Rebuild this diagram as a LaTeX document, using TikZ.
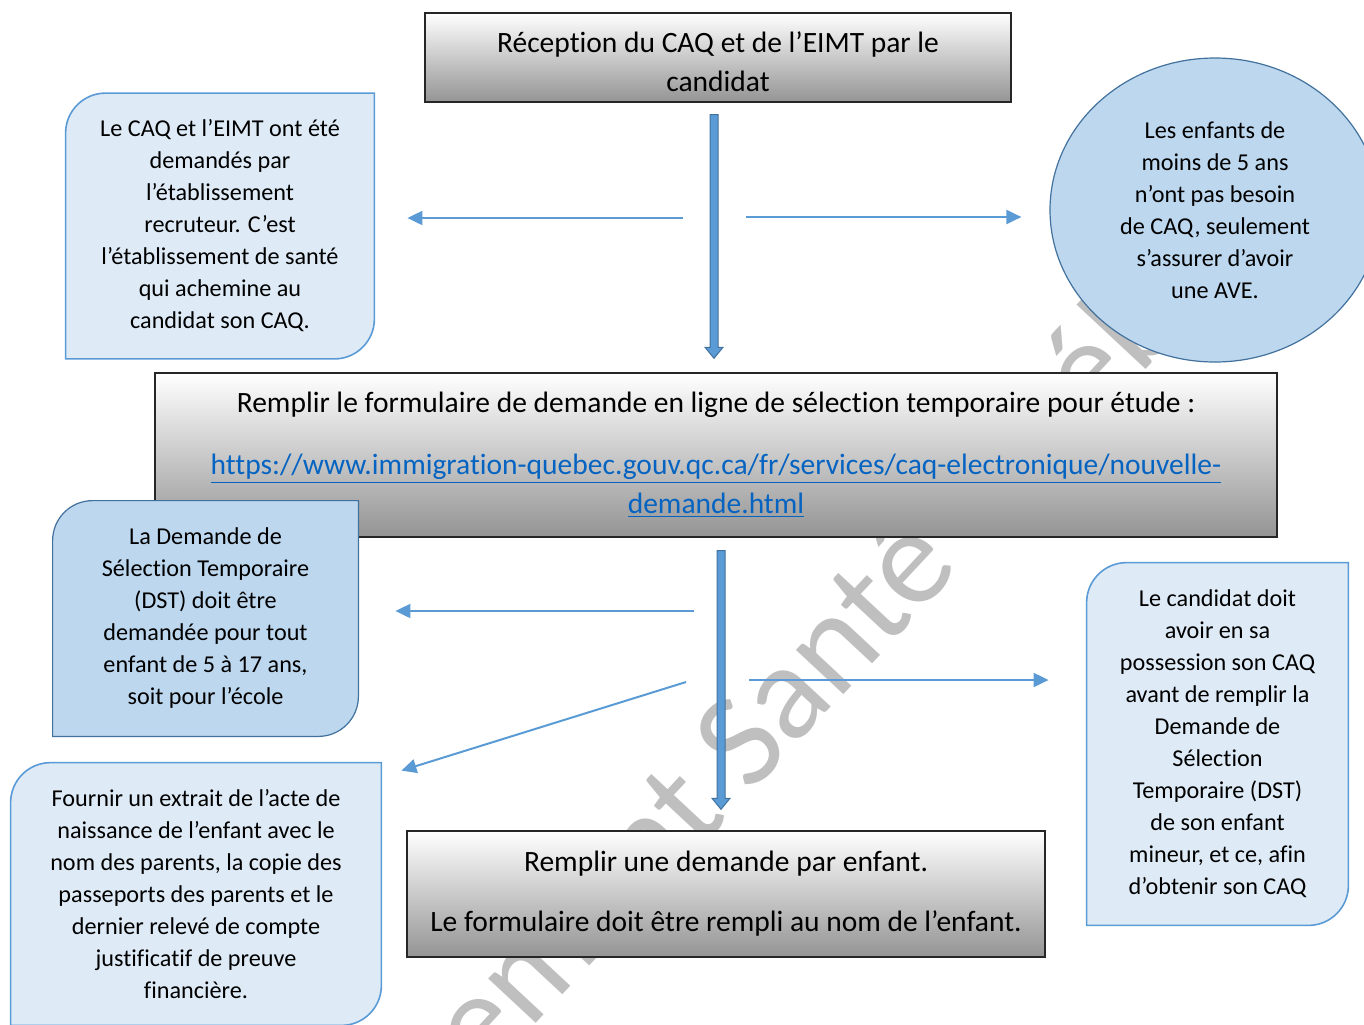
\documentclass[tikz,border=0pt]{standalone}
\usepackage{fontspec}
\setmainfont{Carlito}[Ligatures=NoCommon]
\usetikzlibrary{shapes,calc,positioning}
\usetikzlibrary{arrows.meta}
\definecolor{noteblue}{RGB}{222,235,247}
\definecolor{notedeep}{RGB}{189,215,238}
\definecolor{lineblue}{RGB}{91,155,213}
\definecolor{edgeblue}{RGB}{65,113,156}
\definecolor{linkblue}{RGB}{5,99,193}
\pgfdeclarelayer{back}
\pgfdeclarelayer{frames}
\pgfsetlayers{back,frames,main}
\newcommand{\bigtxt}{\fontsize{14.75}{19.5}\selectfont}
\newcommand{\smalltxt}{\fontsize{12.1}{16}\selectfont}
% frame with two round corners (top left, bottom right)
\newcommand{\diagframe}[2]{%
  \draw[#2] (#1.south west) -- ([yshift=-20pt]#1.north west)
    arc[start angle=180,end angle=90,radius=20pt] -- (#1.north east)
    -- ([yshift=20pt]#1.south east)
    arc[start angle=0,end angle=-90,radius=20pt] -- cycle;}
\newcommand{\fatarrow}[2]{%
  \draw[fatarrow] ([xshift=-2pt]#1) -- ([xshift=-2pt,yshift=5.5pt]#2)
    -- ([xshift=-4.5pt,yshift=5.5pt]#2) -- (#2)
    -- ([xshift=4.5pt,yshift=5.5pt]#2) -- ([xshift=2pt,yshift=5.5pt]#2)
    -- ([xshift=2pt]#1) -- cycle;}

\begin{document}
\begin{tikzpicture}%
  [x=0.5pt, y=-0.5pt, text=black, node font=\smalltxt,
   greybox/.style={rectangle, draw=black!85, line width=0.7pt,
     top color=white, bottom color=black!42, font=\bigtxt, align=center},
   notetext/.style={align=center, inner sep=0pt},
   lightframe/.style={fill=noteblue, draw=lineblue, line width=0.8pt},
   deepframe/.style={fill=notedeep, draw=edgeblue, line width=0.6pt},
   fatarrow/.style={fill=lineblue, draw=edgeblue, line width=0.5pt},
   pointer/.style={draw=lineblue, line width=1pt,
     -{Triangle[length=7.5pt,width=7pt]}}]

  \useasboundingbox (0,0) rectangle (1364,1024);

  \begin{pgfonlayer}{back}
    \node (mark) at (728,762) [rotate=47, text=black!25,
          font=\fontsize{68}{68}\selectfont] {Recrutement Santé Québec};

    \node (recv) at (718,57.5) [greybox, minimum width=293pt, minimum height=44.5pt]
          {\rule{0pt}{14.5pt}Réception du CAQ et de l’EIMT par le\\candidat};
    \node (form) at (716,455) [greybox, minimum width=561pt, minimum height=82pt]
          {Remplir le formulaire de demande en ligne de sélection temporaire pour étude :\\[11.5pt]
           \textcolor{linkblue}{\underline{https://www.immigration-quebec.gouv.qc.ca/fr/services/caq-electronique/nouvelle-}}\\
           \textcolor{linkblue}{\underline{demande.html}}};
    \node (child) at (726,894) [greybox, minimum width=319pt, minimum height=63pt]
          {Remplir une demande par enfant.\\[10.5pt]Le formulaire doit être rempli au nom de l’enfant.};
  \end{pgfonlayer}

  \node (ltnote) at (220,226) [notetext, minimum width=154pt, minimum height=132.5pt]
        {Le CAQ et l’EIMT ont été\\demandés par\\l’établissement\\recruteur. C’est\\l’établissement de santé\\qui achemine au\\candidat son CAQ.};
  \node (kids) at (1215,210) [ellipse, deepframe, align=center, minimum width=165pt, minimum height=152pt]
        {Les enfants de\\moins de 5 ans\\n’ont pas besoin\\de CAQ, seulement\\s’assurer d’avoir\\une AVE.};
  \node (dst) at (205.5,618.5) [notetext, minimum width=152.5pt, minimum height=117.5pt]
        {La Demande de\\Sélection Temporaire\\(DST) doit être\\demandée pour tout\\enfant de 5 à 17 ans,\\soit pour l’école};
  \node (docs) at (196,894) [notetext, minimum width=185pt, minimum height=131pt]
        {Fournir un extrait de l’acte de\\naissance de l’enfant avec le\\nom des parents, la copie des\\passeports des parents et le\\dernier relevé de compte\\justificatif de preuve\\financière.};
  \node (caqfirst) at (1217.5,744) [notetext, minimum width=130.5pt, minimum height=181pt]
        {Le candidat doit\\avoir en sa\\possession son CAQ\\avant de remplir la\\Demande de\\Sélection\\Temporaire (DST)\\de son enfant\\mineur, et ce, afin\\d’obtenir son CAQ};

  \begin{pgfonlayer}{frames}
    \diagframe{ltnote}{lightframe}
    \diagframe{dst}{deepframe}
    \diagframe{docs}{lightframe}
    \diagframe{caqfirst}{lightframe}
  \end{pgfonlayer}

  \coordinate (top1) at ($(recv.south)+(-4,12)$);
  \coordinate (bot1) at ($(form.north)+(-2,-14)$);
  \coordinate (top2) at ($(form.south)+(5,13)$);
  \coordinate (bot2) at ($(child.north)+(-5,-21)$);
  \fatarrow{top1}{bot1}
  \fatarrow{top2}{bot2}

  \coordinate (up1) at (683,218);
  \coordinate (up1tip) at ($(ltnote.east)+(33,-8)$);
  \coordinate (up2) at (746,217);
  \coordinate (up2tip) at ($(kids.west)+(-28,7)$);
  \coordinate (mid1) at (694,611);
  \coordinate (mid1tip) at ($(dst.east)+(37,-7.5)$);
  \coordinate (mid2) at (749,680);
  \coordinate (mid2tip) at ($(caqfirst.west)+(-38,-64)$);
  \coordinate (mid3) at (686,682);
  \coordinate (mid3tip) at ($(docs.north east)+(20,8)$);

  \draw[pointer] (up1) -- (up1tip);
  \draw[pointer] (up2) -- (up2tip);
  \draw[pointer] (mid1) -- (mid1tip);
  \draw[pointer] (mid2) -- (mid2tip);
  \draw[pointer] (mid3) -- (mid3tip);

\end{tikzpicture}
\end{document}
